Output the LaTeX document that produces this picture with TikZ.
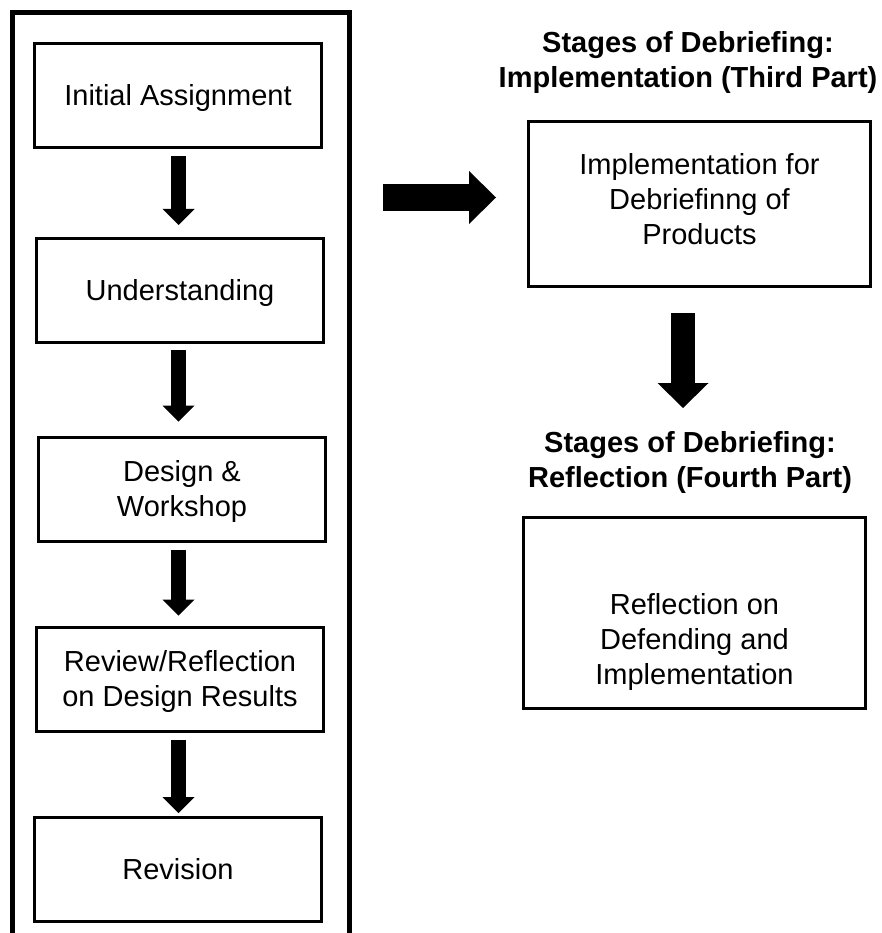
\documentclass[tikz,border=0pt]{standalone}
\usepackage{fontspec}
\setmainfont{Liberation Sans}
\usetikzlibrary{arrows.meta}
\tikzset{
  basefont/.style={font=\fontsize{29}{35}\selectfont},
  stagebox/.style={draw=black, line width=3pt, inner sep=0pt, outer sep=0pt,
    align=center, basefont},
  leftbox/.style={stagebox, minimum width=287pt, minimum height=104pt},
  rightbox/.style={stagebox, minimum width=342pt},
  linesone/.style={text height=20.8pt, text depth=0pt},
  linestwo/.style={text height=55.8pt, text depth=0pt},
  stagetitle/.style={align=center, inner sep=0pt, outer sep=0pt,
    font=\fontsize{29}{35}\selectfont\bfseries, linestwo},
  outerframe/.style={draw=black, line width=5pt, line join=miter, inner sep=0pt,
    outer sep=0pt, minimum width=337pt, minimum height=935pt, anchor=north west},
  smallarrow/.style={line width=15pt,
    -{Triangle[width=32pt,length=16pt,line width=0pt]}},
  bigrightarrow/.style={line width=27pt,
    -{Triangle[width=53pt,length=27pt,line width=0pt]}},
  bigdownarrow/.style={line width=24pt,
    -{Triangle[width=51pt,length=25pt,line width=0pt]}}
}
\begin{document}
\begin{tikzpicture}[x=1pt,y=-1pt]
\useasboundingbox (0,0) rectangle (882,933);
\begin{scope}
  \clip (0,0) rectangle (882,933);
  \node[outerframe] (frame) at (12.5,12.5) {};
\end{scope}

% left column
\node[leftbox, linesone] (A) at (178,95.5) {Initial Assignment};
\node[leftbox, linesone] (B) at (180,290) {Understanding};
\node[leftbox, linestwo] (C) at (182,489) {Design \&\\Workshop};
\node[leftbox, linestwo] (D) at (180,679) {Review/Reflection\\on Design Results};
\node[leftbox, linesone] (E) at (178,869.5) {Revision};

\coordinate (lx) at (178.5,0);
\draw[smallarrow, shorten <=8.5pt, shorten >=13pt] (A.south -| lx) -- (B.north -| lx);
\draw[smallarrow, shorten <=8pt, shorten >=15.5pt] (B.south -| lx) -- (C.north -| lx);
\draw[smallarrow, shorten <=8.5pt, shorten >=11.5pt] (C.south -| lx) -- (D.north -| lx);
\draw[smallarrow, shorten <=8.5pt, shorten >=4.5pt] (D.south -| lx) -- (E.north -| lx);

% right column
\node[stagetitle] (T1) at (688,59.5) {Stages of Debriefing:\\Implementation (Third Part)};
\node[rightbox, minimum height=165pt, text height=80.8pt, text depth=0pt] (P) at (699.5,204)
  {Implementation for\\Debriefinng of\\Products};
\node[stagetitle] (T2) at (690,459.5) {Stages of Debriefing:\\Reflection (Fourth Part)};
\node[rightbox, minimum height=191pt, text height=143.8pt, text depth=0pt] (R) at (694.5,613)
  {Reflection on\\Defending and\\Implementation};

\coordinate (ry) at (0,197.5);
\draw[bigrightarrow, shorten <=33.5pt, shorten >=32.5pt] (frame.east |- ry) -- (P.west |- ry);
\coordinate (dx) at (683,0);
\draw[bigdownarrow, shorten <=26.5pt, shorten >=109.5pt] (P.south -| dx) -- (R.north -| dx);
\end{tikzpicture}
\end{document}
